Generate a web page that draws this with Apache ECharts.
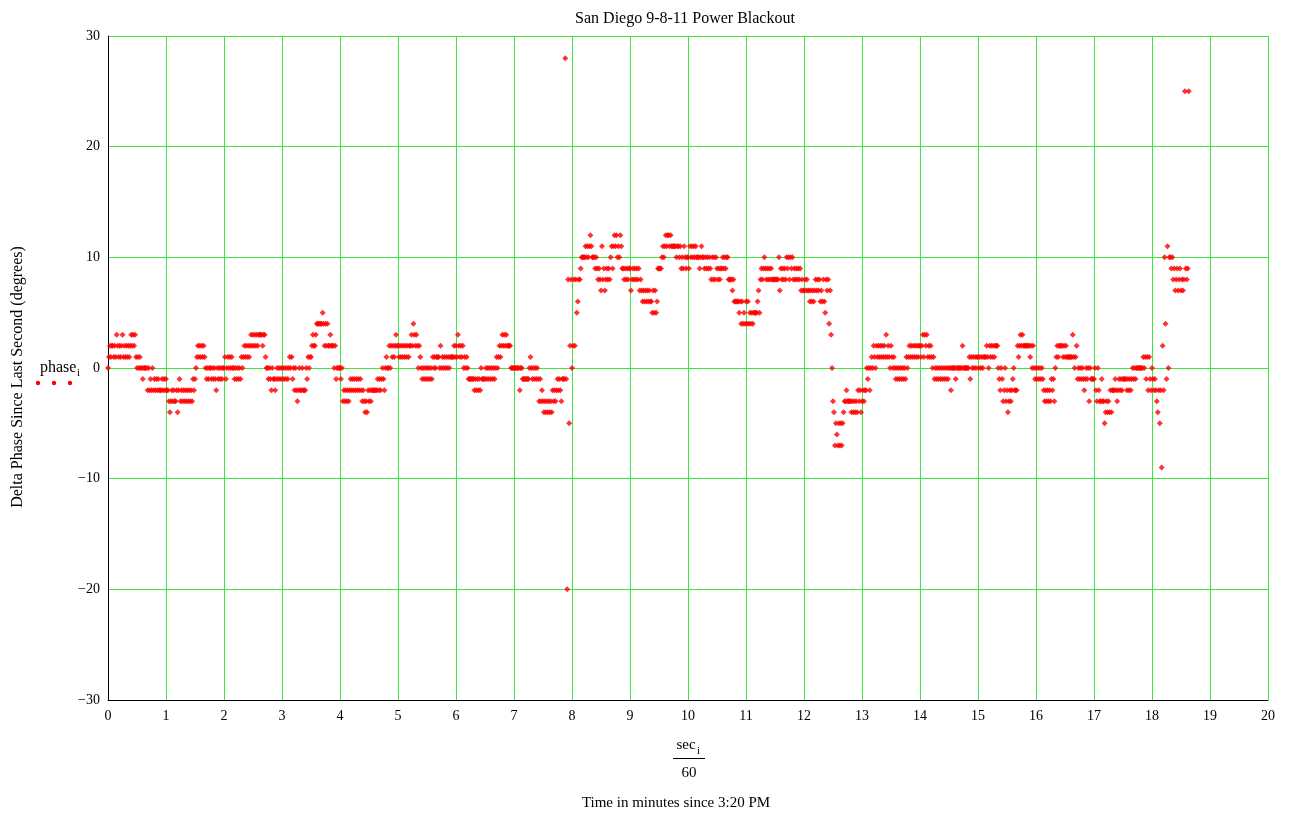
<!DOCTYPE html>
<html>
<head>
<meta charset="utf-8">
<script src="https://cdn.jsdelivr.net/npm/echarts@6/dist/echarts.min.js"></script>
<style>
html,body{margin:0;padding:0;background:#fff;}
#chart{width:1290px;height:814px;}
</style>
</head>
<body>
<div id="chart"></div>
<script>
// Delta phase (degrees), one sample per second, grouped by minute since 3:20 PM
const m00 = [0,1,2,1,2, 2,1,2,1,3,2, 1,2,1,2,3, 1,2,1,2,1,2,1,2,3, 2,3,2,3,1, 0,1,0,1,0, 0,-1,0,0,0,0, -2,0,-2,-1,-2,0,-2, -1,-2,-1,-2,-1,-2,-2,-2,-1,-2,-1,-2];
const m01 = [-1,-2,-2,-3,-4,-3,-2,-3,-2,-3, -3,-2,-4,-2,-1,-3,-2,-3,-2,-3, -2,-3,-2,-3,-2,-3,-2,-3,-1,-2, -1,0,1,2,1,2, 1,2,1,2,1, 0,-1,0,-1,0,0,-1,0,-1,0,-1,-2,0,-1,0,-1,0,-1,0];
const m02 = [0,1,-1,0,1,0,1,0,1,0, 0,-1,0,-1,0,-1,0,-1,1,0, 1,2,1,2,1,2,1,2,3,2, 3,2,3,2,3,2,3,3,3,3, 2,3,3,1,0,0, -1,0,-1,-2,0, -1,-1,-2,-1,0,-1,0,-1,0];
const m03 = [-1,0,-1,0,-1,0,-1,0,1,0, 1,-1,0,-2,0,-2,-3,-2,0,-2, -2,0,-2,-2,-2,0,-1,1,0,1, 1,2,3,2,2,3,4,4,4,4, 4,4,5,4,2,4,2,4,2,2, 3,2,2,2,0,2,-1,0,0,0];
const m04 = [0,-1,0,-3,-2,-3,-2,-3,-2,-3, -2,-1,-2,-1,-2,-1,-2,-1,-2,-1, -2,-1,-2,-3,-2,-3,-4,-3,-4,-2, -3,-2,-3,-2,-2,-2,-2,-2,-2,-1, -2,-1,-2,-1,0,-1,-2,0,1,0, 0,2,0,2,1,2,1,2,3,2];
const m05 = [2,1,2,1,2,1,2,1,2,1, 2,1,2,2,3,2,4,3,2,3, 2,0,2,1,0,-1,0,-1,0,-1, 0,-1,0,-1,0,-1,1,0,1,0, 1,1,1,0,2,0,1,0,1,0, 1,0,1,0,1,1,1,1,2,1];
const m06 = [2,1,3,2,1,2,1,2,0,1, 0,1,0,-1,-1,-1,-1,-1,-1,-2, -1,-2,-1,-2,-1,-2,0,-1,-1,-1, -1,0,-1,0,-1,0,-1,0,-1,0, -1,0,1,0,1,2,1,2,3,2, 3,2,3,2,2,2,2,0,0,0];
const m07 = [0,0,0,0,0,0,-2,0,0,-1, -1,-1,-1,-1,-1,-1,0,1,0,-1, 0,-1,0,-1,0,-1,-3,-1,-3,-2, -3,-4,-3,-4,-3,-4,-3,-4,-3,-4, -2,-3,-2,-3,-2,-1,-2,-1,-2,-3, -1,-1,-1,28,-1,-20,8,-5,2,8];
const m08 = [0,2,8,2,8,5,6,8,8,9, 10,10,10,10,11,10,11,10,11,12, 11,10,10,10,9,10,9,8,9,8, 7,11,8,9,7,8,9,8,9,8, 10,11,9,11,12,11,12,10,11,10, 12,11,9,9,8,9,8,9,8,9];
const m09 = [9,7,8,9,8,9,8,9,8,9, 7,8,7,6,7,6,7,6,7,6, 7,6,6,5,7,5,7,5,6,9, 9,9,9,10,11,10,11,12,11,12, 12,11,12,11,11,11,11,11,10,11, 11,10,11,9,10,9,11,10,9,10];
const m10 = [10,9,11,10,11,10,11,10,11,10, 10,10,9,10,11,10,10,9,10,9, 10,9,10,9,8,10,8,10,8,10, 9,8,9,8,9,9,10,9,10,9, 10,10,8,8,8,8,7,8,6,6, 6,6,6,5,6,4,6,4,5,4];
const m11 = [6,4,6,4,5,4,5,4,5,5, 5,5,6,7,5,8,9,8,9,10, 9,8,9,8,9,8,9,8,8,8, 8,8,8,8,10,7,9,8,9,8, 9,8,10,9,10,8,10,9,10,8, 9,8,9,8,9,8,9,7,8,7];
const m12 = [7,8,7,8,7,7,6,7,6,7, 6,7,8,7,8,7,8,6,7,6, 8,6,5,8,7,8,4,7,3,0, -3,-4,-7,-5,-6,-7,-5,-7,-5,-7, -5,-4,-3,-3,-2,-3,-3,-3,-3,-4, -3,-4,-3,-4,-3,-4,-2,-3,-2,-4];
const m13 = [-3,-2,-3,-2,-2,0,-1,0,-2,0, 1,0,2,1,0,2,1,2,1,2, 1,2,1,2,1,3,1,2,1,0, 2,1,0,1,0,-1,0,-1,0,-1, 0,-1,0,-1,0,-1,1,0,1,2, 1,2,1,2,1,2,1,2,1,2];
const m14 = [2,1,2,3,1,3,2,3,1,2, 1,2,1,0,1,-1,0,-1,0,-1, 0,-1,0,-1,0,-1,0,-1,0,-1, 0,0,-2,0,0,0,0,-1,0,0, 0,0,0,0,2,0,0,0,0,0, 0,1,-1,1,0,1,0,1,0,1];
const m15 = [1,0,1,0,1,0,1,1,1,2, 1,0,2,1,2,1,2,1,2,2, 2,0,-1,-2,0,-1,-3,-2,0,-3, -2,-4,-3,-2,-3,-2,-1,0,-2,-2, -2,2,1,2,3,2,3,2,2,2, 2,2,2,2,1,2,0,2,0,-1];
const m16 = [0,-1,0,-1,0,-1,0,-1,-2,-3, -2,-3,-2,-3,-2,-3,-1,-2,-1,-3, 0,1,2,1,2,2,2,2,1,2, 1,2,1,1,1,1,1,1,3,1, 0,1,2,-1,0,-1,0,-1,0,-1, -2,-1,0,-1,0,-3,0,-1,-1,-1];
const m17 = [-1,0,-2,-3,0,-2,-3,-3,-1,-3, -3,-5,-4,-3,-4,-3,-4,-2,-4,-2, -2,-2,-1,-2,-3,-2,-1,-2,-1,-2, -1,-1,-1,-1,-2,-1,-2,-1,-2,-1, 0,-1,0,-1,0,0,0,0,0,0, 0,1,0,1,-1,1,-2,1,-1,-2];
const m18 = [0,-1,-2,-1,-2,-3,-4,-2,-5,-2, -9,2,-2,10,4,-1,11,0,10,10, 9,10,8,9,7,8,9,7,8,9, 7,8,7,8,25,9,8,9,25];

const xTicks = [0,1,2,3,4,5,6,7,8,9,10,11,12,13,14,15,16,17,18,19,20];
const yTicks = [-30,-20,-10,0,10,20,30];

const minutes = [m00,m01,m02,m03,m04,m05,m06,m07,m08,m09,m10,m11,m12,m13,m14,m15,m16,m17,m18];
const phase = [].concat(...minutes);
const points = phase.map((v, i) => [i / 60, v]);

const SERIF = '"Liberation Serif", "Times New Roman", serif';
const GREEN = '#3ee63e';
const fmt = v => String(v).replace('-', '\u2212');

const chart = echarts.init(document.getElementById('chart'), null, {renderer: 'canvas'});
chart.setOption({
  backgroundColor: '#ffffff',
  animation: false,
  title: {
    text: 'San Diego 9-8-11 Power Blackout',
    left: 680, top: 6, textAlign: 'center',
    textStyle: {fontFamily: SERIF, fontSize: 16, fontWeight: 'normal', color: '#000'}
  },
  grid: {left: 108, right: 22, top: 36, bottom: 114, containLabel: false},
  xAxis: {
    type: 'value', min: xTicks[0], max: xTicks[xTicks.length - 1], interval: 1,
    axisLine: {show: true, onZero: false, lineStyle: {color: '#000', width: 1}},
    axisTick: {show: false},
    axisLabel: {fontFamily: SERIF, fontSize: 14, color: '#000', margin: 9, formatter: fmt},
    splitLine: {show: true, lineStyle: {color: GREEN, width: 1}}
  },
  yAxis: {
    type: 'value', min: yTicks[0], max: yTicks[yTicks.length - 1], interval: 10,
    axisLine: {show: true, onZero: false, lineStyle: {color: '#000', width: 1}},
    axisTick: {show: false},
    axisLabel: {fontFamily: SERIF, fontSize: 14, color: '#000', margin: 8, formatter: fmt},
    splitLine: {show: true, lineStyle: {color: GREEN, width: 1}}
  },
  series: [{
    type: 'scatter',
    data: points,
    symbol: 'diamond',
    symbolSize: 6,
    itemStyle: {color: '#ff0000'},
    silent: true
  }],
  graphic: [
    {type: 'text', x: 18, y: 377, rotation: Math.PI / 2,
      style: {text: 'Delta Phase Since Last Second (degrees)', font: '16px ' + SERIF, fill: '#000', align: 'center', verticalAlign: 'middle'}},
    {type: 'text', x: 40, y: 368,
      style: {text: 'phase', font: '16px ' + SERIF, fill: '#000', align: 'left', verticalAlign: 'middle'}},
    {type: 'text', x: 77, y: 373,
      style: {text: 'i', font: '11px ' + SERIF, fill: '#000', align: 'left', verticalAlign: 'middle'}},
    {type: 'circle', shape: {cx: 38, cy: 383, r: 2.2}, style: {fill: '#ff0000'}},
    {type: 'circle', shape: {cx: 54, cy: 383, r: 2.2}, style: {fill: '#ff0000'}},
    {type: 'circle', shape: {cx: 70, cy: 383, r: 2.2}, style: {fill: '#ff0000'}},
    {type: 'text', x: 686, y: 745,
      style: {text: 'sec', font: '15px ' + SERIF, fill: '#000', align: 'center', verticalAlign: 'middle'}},
    {type: 'text', x: 697, y: 751,
      style: {text: 'i', font: '11px ' + SERIF, fill: '#000', align: 'left', verticalAlign: 'middle'}},
    {type: 'line', shape: {x1: 673, y1: 758.5, x2: 705, y2: 758.5}, style: {stroke: '#000', lineWidth: 1}},
    {type: 'text', x: 689, y: 773,
      style: {text: '60', font: '15px ' + SERIF, fill: '#000', align: 'center', verticalAlign: 'middle'}},
    {type: 'text', x: 676, y: 803,
      style: {text: 'Time in minutes since 3:20 PM', font: '15px ' + SERIF, fill: '#000', align: 'center', verticalAlign: 'middle'}}
  ]
});
</script>
</body>
</html>
